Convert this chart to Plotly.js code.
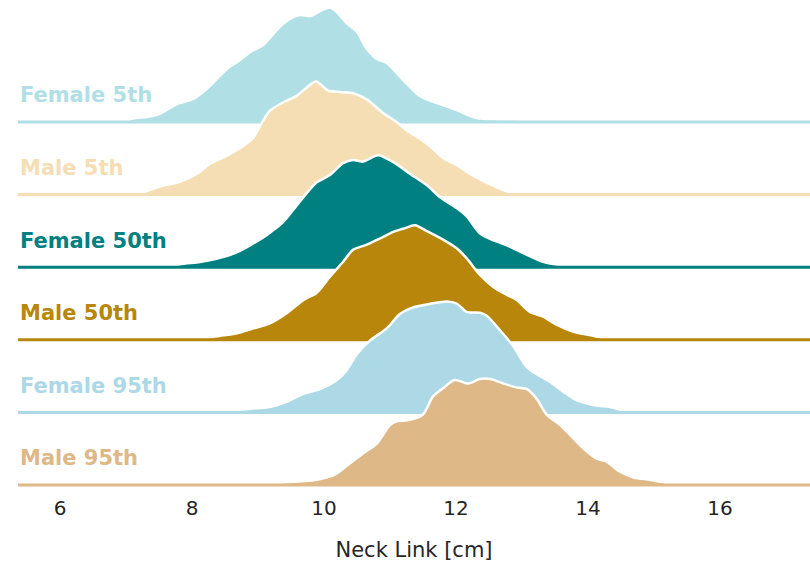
<!DOCTYPE html>
<html>
<head>
<meta charset="utf-8">
<script src="https://cdn.plot.ly/plotly-3.0.1.min.js"></script>
<style>
  html, body { margin: 0; padding: 0; background: #ffffff; }
  #chart { width: 810px; height: 569px; }
</style>
</head>
<body>
<div id="chart"></div>
<script>
// Ridge order, top to bottom
const groups = ['Female 5th', 'Male 5th', 'Female 50th', 'Male 50th', 'Female 95th', 'Male 95th'];
const colors = ['#B0E0E6', '#F5DEB3', '#008080', '#B8860B', '#ADD8E6', '#DEB887'];

// Kernel density estimates of neck link length [cm] for each group
const female5X = [6.95, 7.10, 7.36, 7.52, 7.77, 8.02, 8.22, 8.53, 8.73, 8.88, 9.08, 9.23, 9.38, 9.53, 9.64, 9.79, 9.94, 10.09, 10.19, 10.34, 10.50, 10.65, 10.80, 10.95, 11.20, 11.45, 11.66, 12.01, 12.31, 12.92, 13.17, 13.60];
const female5D = [0, 0.012, 0.018, 0.028, 0.060, 0.077, 0.110, 0.177, 0.207, 0.233, 0.257, 0.293, 0.327, 0.350, 0.357, 0.353, 0.370, 0.382, 0.367, 0.330, 0.300, 0.243, 0.210, 0.197, 0.140, 0.087, 0.067, 0.040, 0.013, 0.008, 0.003, 0];

const male5X = [7.10, 7.21, 7.52, 7.82, 8.07, 8.27, 8.53, 8.78, 8.93, 9.06, 9.18, 9.38, 9.59, 9.74, 9.88, 10.06, 10.24, 10.44, 10.65, 10.89, 11.11, 11.26, 11.45, 11.65, 11.80, 12.02, 12.26, 12.56, 12.82, 13.12];
const male5D = [0, 0.005, 0.027, 0.043, 0.069, 0.102, 0.130, 0.163, 0.190, 0.240, 0.280, 0.307, 0.330, 0.357, 0.377, 0.347, 0.342, 0.338, 0.317, 0.273, 0.240, 0.213, 0.187, 0.153, 0.123, 0.097, 0.063, 0.030, 0.007, 0];

const female50X = [7.67, 7.82, 8.12, 8.37, 8.63, 8.88, 9.13, 9.38, 9.59, 9.74, 9.89, 10.09, 10.29, 10.44, 10.59, 10.82, 11.05, 11.30, 11.56, 11.76, 12.01, 12.16, 12.36, 12.56, 12.77, 13.02, 13.32, 13.58, 13.83];
const female50D = [0, 0.010, 0.017, 0.028, 0.045, 0.073, 0.107, 0.150, 0.207, 0.247, 0.283, 0.307, 0.347, 0.357, 0.352, 0.373, 0.350, 0.312, 0.273, 0.233, 0.197, 0.170, 0.113, 0.090, 0.073, 0.047, 0.018, 0.007, 0];

const male50X = [8.05, 8.27, 8.42, 8.68, 8.93, 9.18, 9.43, 9.69, 9.89, 10.09, 10.29, 10.44, 10.65, 10.85, 11.05, 11.20, 11.38, 11.56, 11.81, 12.01, 12.16, 12.36, 12.56, 12.77, 12.92, 13.12, 13.32, 13.53, 13.78, 14.08, 14.33];
const male50D = [0, 0.008, 0.013, 0.022, 0.038, 0.055, 0.088, 0.133, 0.157, 0.210, 0.260, 0.300, 0.317, 0.338, 0.360, 0.370, 0.382, 0.362, 0.333, 0.305, 0.272, 0.217, 0.177, 0.150, 0.133, 0.093, 0.077, 0.050, 0.027, 0.013, 0];

const female95X = [8.35, 8.63, 8.88, 9.18, 9.43, 9.69, 9.94, 10.19, 10.34, 10.50, 10.70, 10.95, 11.15, 11.35, 11.61, 11.86, 12.01, 12.16, 12.36, 12.46, 12.67, 12.87, 13.07, 13.22, 13.42, 13.63, 13.83, 14.13, 14.33, 14.53, 14.74];
const female95D = [0, 0.007, 0.012, 0.018, 0.035, 0.062, 0.078, 0.107, 0.140, 0.195, 0.240, 0.280, 0.328, 0.350, 0.362, 0.370, 0.363, 0.335, 0.332, 0.323, 0.273, 0.220, 0.152, 0.128, 0.102, 0.068, 0.040, 0.023, 0.018, 0.007, 0];

const male95X = [9.03, 9.38, 9.89, 10.19, 10.39, 10.59, 10.80, 11.00, 11.10, 11.30, 11.50, 11.65, 11.80, 11.98, 12.19, 12.36, 12.52, 12.72, 12.92, 13.07, 13.22, 13.38, 13.58, 13.78, 13.98, 14.13, 14.28, 14.48, 14.69, 14.94, 15.24, 15.55];
const male95D = [0, 0.008, 0.017, 0.038, 0.072, 0.105, 0.138, 0.200, 0.212, 0.217, 0.235, 0.295, 0.322, 0.350, 0.338, 0.353, 0.353, 0.338, 0.325, 0.320, 0.288, 0.233, 0.200, 0.155, 0.112, 0.088, 0.078, 0.045, 0.025, 0.017, 0.005, 0];

const xTicks = [6, 8, 10, 12, 14, 16];
const xLabel = 'Neck Link [cm]';

const xs = [female5X, male5X, female50X, male50X, female95X, male95X];
const ds = [female5D, male5D, female50D, male50D, female95D, male95D];

// Layout constants for the stacked ridges
const xRange = [5.3636, 17.3636];
const step = 0.242;          // vertical distance between ridge baselines
const yRange = [-0.0167, 1.6167];
const font = 'DejaVu Sans, Verdana, sans-serif';

const traces = [];
const annotations = [];
groups.forEach((name, i) => {
  const off = (groups.length - 1 - i) * step;
  const y = ds[i].map(v => v + off);
  // filled density
  traces.push({
    type: 'scatter', mode: 'lines', x: xs[i], y: y,
    fill: 'toself', fillcolor: colors[i],
    line: { width: 0, shape: 'spline', smoothing: 0.8, color: colors[i] },
    hoverinfo: 'skip', showlegend: false
  });
  // white outline
  traces.push({
    type: 'scatter', mode: 'lines', x: xs[i], y: y,
    line: { width: 2.5, shape: 'spline', smoothing: 0.8, color: '#ffffff' },
    hoverinfo: 'skip', showlegend: false
  });
  // baseline across the full axis
  traces.push({
    type: 'scatter', mode: 'lines', x: xRange, y: [off, off],
    line: { width: 3, color: colors[i] },
    hoverinfo: 'skip', showlegend: false
  });
  annotations.push({
    xref: 'paper', yref: 'y', x: 0, y: off + 0.089,
    xanchor: 'left', yanchor: 'middle', xshift: -0.5,
    text: '<b>' + name + '</b>', showarrow: false,
    font: { family: font, size: 21, color: colors[i] }
  });
});

const layout = {
  width: 810, height: 569,
  margin: { l: 18, r: 0, t: 0, b: 79 },
  paper_bgcolor: '#ffffff', plot_bgcolor: '#ffffff',
  showlegend: false,
  hovermode: false,
  xaxis: {
    range: xRange, tickvals: xTicks, ticktext: xTicks.map(String),
    showgrid: false, zeroline: false, showline: false, ticks: '',
    ticklabelstandoff: 4,
    tickfont: { family: font, size: 20, color: '#262626' },
    title: { text: xLabel, font: { family: font, size: 21, color: '#262626' }, standoff: 23 },
    fixedrange: true
  },
  yaxis: { range: yRange, visible: false, fixedrange: true },
  annotations: annotations
};

Plotly.newPlot('chart', traces, layout, { staticPlot: true, displayModeBar: false });
</script>
</body>
</html>
